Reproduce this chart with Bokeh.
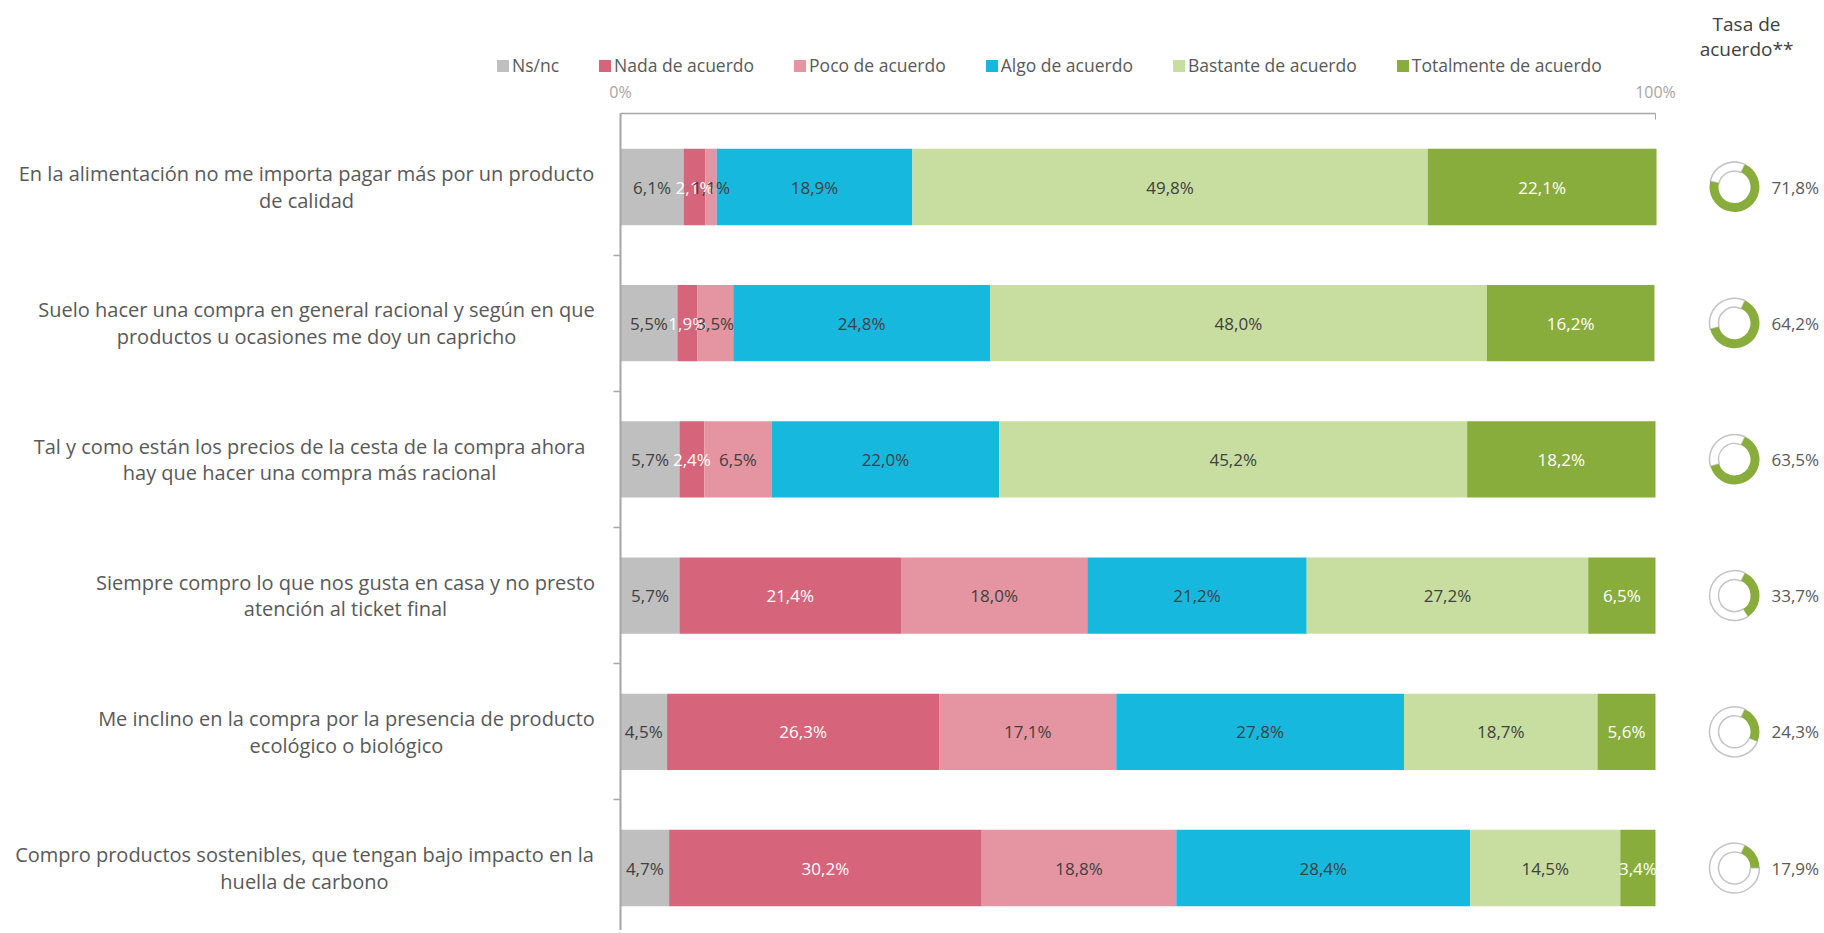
import numpy as np
from bokeh.plotting import figure
from bokeh.models import (Range1d, LinearAxis, FixedTicker, Legend,
                          LegendItem, ColumnDataSource)
from bokeh.core.properties import value
from bokeh.embed import file_html
from bokeh.resources import INLINE

# ---------------- data ----------------
statements = [
    "En la alimentación no me importa pagar más por un producto\nde calidad",
    "Suelo hacer una compra en general racional y según en que\nproductos u ocasiones me doy un capricho",
    "Tal y como están los precios de la cesta de la compra ahora\nhay que hacer una compra más racional",
    "Siempre compro lo que nos gusta en casa y no presto\natención al ticket final",
    "Me inclino en la compra por la presencia de producto\necológico o biológico",
    "Compro productos sostenibles, que tengan bajo impacto en la\nhuella de carbono",
]
series = ["Ns/nc", "Nada de acuerdo", "Poco de acuerdo", "Algo de acuerdo",
          "Bastante de acuerdo", "Totalmente de acuerdo"]
ns_nc = [6.1, 5.5, 5.7, 5.7, 4.5, 4.7]
nada = [2.1, 1.9, 2.4, 21.4, 26.3, 30.2]
poco = [1.1, 3.5, 6.5, 18.0, 17.1, 18.8]
algo = [18.9, 24.8, 22.0, 21.2, 27.8, 28.4]
bastante = [49.8, 48.0, 45.2, 27.2, 18.7, 14.5]
totalmente = [22.1, 16.2, 18.2, 6.5, 5.6, 3.4]
tasa_acuerdo = [71.8, 64.2, 63.5, 33.7, 24.3, 17.9]
x_ticks = [0, 100]
x_tick_labels = ["0%", "100%"]
rate_title = "Tasa de\nacuerdo**"

# ---------------- styles ----------------
colors = ["#bfbfbf", "#d6647a", "#e495a1", "#17b8de", "#c8dea1", "#89ad3c"]
label_colors = ["#404040", "#ffffff", "#404040", "#404040", "#404040", "#ffffff"]
FONT = "Open Sans"
TXT = "#595959"
AXIS = "#a6a6a6"

# ---------------- layout (screen pixel anchors) ----------------
FIG_W, FIG_H = 1824, 930
X0_PX, PX_PER_PCT = 620.0, 10.35     # 0 % at x=620 px, 100 % at 1655 px
ROW0_PX, ROW_PX = 186.5, 136.2       # first row centre and row pitch
AXIS_TOP_PX = 113
n = len(statements)


def px_x(sx):
    return (sx - X0_PX) / PX_PER_PCT


def px_y(sy):
    return (n - 1) - (sy - ROW0_PX) / ROW_PX


p = figure(width=FIG_W, height=FIG_H, x_range=Range1d(px_x(0), px_x(FIG_W)),
           y_range=Range1d(px_y(FIG_H), px_y(0)), output_backend="svg",
           toolbar_location=None, x_axis_location=None, y_axis_location=None,
           min_border=0)
p.outline_line_color = None
p.background_fill_color = "white"
p.border_fill_color = "white"
for g in p.grid:
    g.visible = False

rows_y = (n - 1) - np.arange(n)

vals = np.array([ns_nc, nada, poco, algo, bastante, totalmente], dtype=float)
cum = np.cumsum(vals, axis=0)
left = cum - vals

items = []
sources = []
for k, name in enumerate(series):
    txt = [f"{v:.1f}".replace(".", ",") + "%" for v in vals[k]]
    src = ColumnDataSource(dict(y=rows_y, left=left[k], right=cum[k],
                                mid=(left[k] + cum[k]) / 2, txt=txt))
    sources.append(src)
    r = p.hbar(y="y", left="left", right="right", height=0.56, source=src,
               fill_color=colors[k], line_color=None)
    items.append(LegendItem(label=name, renderers=[r]))
for k, src in enumerate(sources):
    p.text(x="mid", y="y", text="txt", source=src, text_align="center",
           text_baseline="middle", text_font=value(FONT),
           text_font_size="17px", text_color=label_colors[k])

# donuts: agreement rate
rate = np.array(tasa_acuerdo) / 100.0
start = np.deg2rad(65.0)
ang_end = start - 2 * np.pi * rate
dsrc = ColumnDataSource(dict(x=[px_x(1734)] * n, y=rows_y, a0=ang_end,
                             a1=[start - 2 * np.pi] * n, g0=[start] * n,
                             g1=ang_end, tx=[px_x(1771)] * n,
                             txt=[f"{v:.1f}".replace(".", ",") + "%" for v in tasa_acuerdo]))
p.annular_wedge(x="x", y="y", inner_radius=16, outer_radius=25,
                inner_radius_units="screen", outer_radius_units="screen",
                start_angle="a0", end_angle="a1", direction="clock",
                fill_color="white", line_color="#c4c4c4", line_width=1.5,
                source=dsrc)
p.annular_wedge(x="x", y="y", inner_radius=16, outer_radius=25,
                inner_radius_units="screen", outer_radius_units="screen",
                start_angle="g0", end_angle="g1", direction="clock",
                fill_color=colors[5], line_color=None, source=dsrc)
p.text(x="tx", y="y", text="txt", source=dsrc, text_align="left",
       text_baseline="middle", text_font=value(FONT), text_font_size="17px",
       text_color=TXT)

# axes drawn at fixed locations inside the plot area
top_axis = LinearAxis(ticker=FixedTicker(ticks=x_ticks),
                      major_label_overrides={t: l for t, l in zip(x_ticks, x_tick_labels)},
                      fixed_location=px_y(AXIS_TOP_PX),
                      bounds=(0, 100), axis_line_color=AXIS, axis_line_width=1.5,
                      major_tick_line_color=AXIS, major_tick_in=6, major_tick_out=0,
                      minor_tick_line_color=None, major_label_standoff=11,
                      major_label_text_font=FONT, major_label_text_font_size="16px",
                      major_label_text_color="#a6a6a6")
p.add_layout(top_axis, "above")

bounds_ticks = [float(v) + 0.5 for v in range(n - 1)]
left_axis = LinearAxis(ticker=FixedTicker(ticks=bounds_ticks),
                       major_label_overrides={t: "" for t in bounds_ticks},
                       fixed_location=0, bounds=(px_y(FIG_H), px_y(AXIS_TOP_PX)),
                       axis_line_color=AXIS, axis_line_width=2,
                       major_tick_line_color=AXIS, major_tick_line_width=1.5,
                       major_tick_in=0, major_tick_out=7,
                       minor_tick_line_color=None, major_label_text_font_size="1px")
p.add_layout(left_axis, "left")

# statement labels (centered lines, block right-aligned next to the axis)
label_centers = [306, 316, 309, 345, 346, 304]
lsrc = ColumnDataSource(dict(x=[px_x(c) for c in label_centers], y=rows_y,
                             txt=statements))
p.text(x="x", y="y", text="txt", source=lsrc, text_align="center",
       text_baseline="middle", text_font=value(FONT), text_font_size="20px",
       text_color=TXT, text_line_height=0.98)

tsrc = ColumnDataSource(dict(x=[px_x(1746)], y=[px_y(36)], txt=[rate_title]))
p.text(x="x", y="y", text="txt", source=tsrc, text_align="center",
       text_baseline="middle", text_font=value(FONT), text_font_size="19px",
       text_color="#404040", text_line_height=0.98)

legend = Legend(items=items, orientation="horizontal",
                location=(495, FIG_H - 65 - 12),
                glyph_width=15, glyph_height=15, label_height=15,
                label_standoff=2, spacing=38, padding=0, margin=0,
                border_line_alpha=0, background_fill_alpha=0,
                label_text_font=FONT, label_text_font_size="17.5px",
                label_text_color=TXT)
p.add_layout(legend)

open("out.html", "w").write(file_html(p, INLINE))
